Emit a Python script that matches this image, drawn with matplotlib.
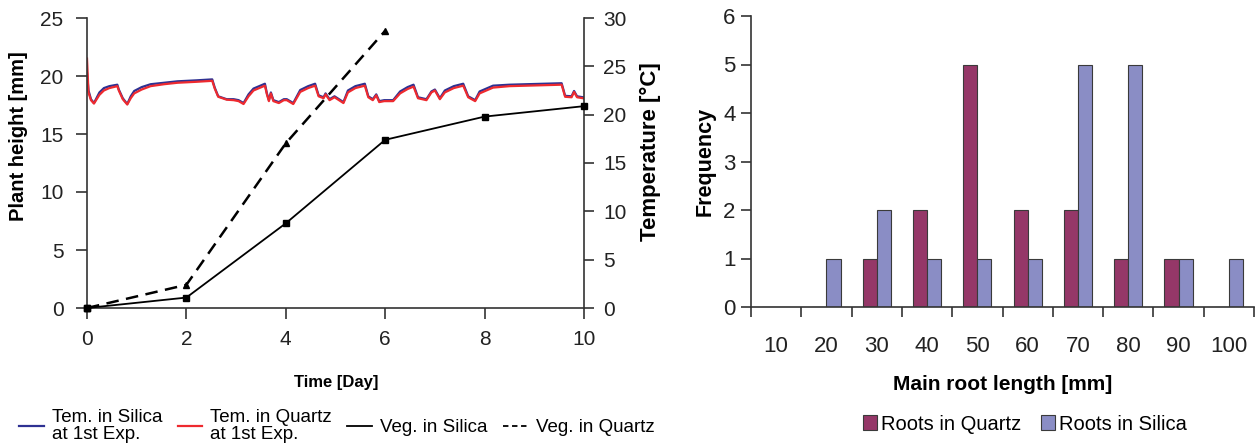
import matplotlib
matplotlib.use("Agg")
import matplotlib.pyplot as plt
from matplotlib.lines import Line2D
from matplotlib.patches import Patch
import matplotlib.font_manager as fm

# ---------------- data ----------------
days = [0, 2, 4, 6, 8, 10]
veg_silica = [0.0, 0.9, 7.3, 14.5, 16.5, 17.4]
days_quartz = [0, 2, 4, 6]
veg_quartz = [0.0, 2.0, 14.2, 23.9]

temp_time = [0.00, 0.03, 0.08, 0.14, 0.25, 0.34, 0.45, 0.61, 0.64, 0.72, 0.81, 0.88, 0.95,
             1.10, 1.28, 1.55, 1.82, 2.20, 2.52, 2.57, 2.64, 2.81, 2.95, 3.05, 3.15, 3.25,
             3.35, 3.58, 3.62, 3.66, 3.70, 3.75, 3.86, 3.96, 4.02, 4.15, 4.29, 4.45, 4.59,
             4.66, 4.76, 4.80, 4.88, 4.98, 5.16, 5.25, 5.40, 5.59, 5.66, 5.75, 5.82, 5.88,
             5.98, 6.16, 6.30, 6.45, 6.57, 6.66, 6.83, 6.93, 7.00, 7.10, 7.20, 7.38, 7.57,
             7.67, 7.81, 7.90, 8.17, 8.50, 8.85, 9.20, 9.55, 9.62, 9.75, 9.80, 9.86, 9.98]
temp_silica = [24.3, 22.5, 21.6, 21.2, 22.3, 22.75, 22.95, 23.1, 22.6, 21.7, 21.1, 21.9, 22.45,
               22.85, 23.15, 23.3, 23.45, 23.55, 23.65, 22.8, 21.9, 21.6, 21.6, 21.5, 21.2, 22.1,
               22.7, 23.2, 22.2, 21.5, 22.3, 21.5, 21.3, 21.6, 21.6, 21.2, 22.55, 22.95, 23.2,
               22.0, 21.8, 22.2, 21.6, 21.9, 21.3, 22.5, 22.95, 23.2, 21.9, 21.6, 22.1, 21.4,
               21.5, 21.5, 22.4, 22.85, 23.1, 21.8, 21.6, 22.4, 22.6, 21.7, 22.5, 22.95, 23.2,
               21.9, 21.5, 22.4, 23.0, 23.1, 23.15, 23.2, 23.25, 21.95, 21.9, 22.45, 21.9, 21.8]
temp_quartz = [25.8, 22.3, 21.5, 21.15, 22.05, 22.5, 22.75, 22.95, 22.5, 21.6, 21.05, 21.7, 22.2,
               22.6, 22.95, 23.15, 23.3, 23.4, 23.5, 22.7, 21.85, 21.55, 21.5, 21.4, 21.1, 21.9,
               22.5, 23.0, 22.1, 21.4, 22.2, 21.4, 21.2, 21.5, 21.5, 21.1, 22.35, 22.75, 23.0,
               21.9, 21.7, 22.1, 21.5, 21.8, 21.2, 22.3, 22.75, 23.0, 21.8, 21.5, 22.0, 21.3,
               21.4, 21.4, 22.2, 22.65, 22.9, 21.7, 21.5, 22.3, 22.5, 21.6, 22.3, 22.75, 23.0,
               21.8, 21.4, 22.2, 22.8, 22.95, 23.0, 23.05, 23.1, 21.85, 21.8, 22.35, 21.8, 21.7]

root_bins = ["10", "20", "30", "40", "50", "60", "70", "80", "90", "100"]
roots_quartz = [0, 0, 1, 2, 5, 2, 2, 1, 1, 0]
roots_silica = [0, 1, 2, 1, 1, 1, 5, 5, 1, 1]

# ---------------- fonts ----------------
names = {f.name for f in fm.fontManager.ttflist}
NARROW = "Liberation Sans Narrow" if "Liberation Sans Narrow" in names else "Liberation Sans"
REG = "Liberation Sans"

W, H = 1260, 447
fig = plt.figure(figsize=(W / 100, H / 100), dpi=100)

def fx(px):
    return px / W

def fy(py):
    return 1 - py / H

SP = "#333333"
TXT = "#222222"

# ---------------- left chart ----------------
ax = fig.add_axes([fx(87), fy(308), fx(584 - 87), (308 - 18) / H])
ax2 = ax.twinx()
ax.set_zorder(ax2.get_zorder() + 1)
ax.patch.set_visible(False)

ax2.plot(temp_time, temp_silica, color="#2e3192", lw=1.6, solid_joinstyle="round")
ax2.plot(temp_time, temp_quartz, color="#ee2a2f", lw=1.6, solid_joinstyle="round")
ax2.set_ylim(0, 30)
ax2.set_yticks(range(0, 31, 5))

ax.plot(days, veg_silica, color="black", lw=1.3, marker="s", ms=4.5, clip_on=False, zorder=4)
ax.plot(days_quartz, veg_quartz, color="black", lw=1.8, ls=(0, (5, 3)), marker="^", ms=5,
        clip_on=False, zorder=3)
ax.plot([0], [0], marker="s", color="black", ms=4.5, clip_on=False, zorder=5)
ax.set_xlim(0, 10)
ax.set_ylim(0, 25)
ax.set_xticks(range(0, 11, 2))
ax.set_yticks(range(0, 26, 5))
ax2.set_xlim(0, 10)

for a in (ax, ax2):
    a.spines["top"].set_visible(False)
ax.spines["right"].set_visible(False)
ax2.spines["left"].set_visible(False)
ax2.spines["bottom"].set_visible(False)
for a in (ax, ax2):
    for s in a.spines.values():
        s.set_color(SP)
        s.set_linewidth(1.2)
ax.tick_params(axis="both", direction="out", length=8, width=1.2, color=SP,
               labelsize=15, labelcolor=TXT)
ax.tick_params(axis="y", pad=9)
ax.tick_params(axis="x", pad=8)
ax2.tick_params(axis="y", direction="out", length=7, width=1.2, color=SP,
                labelsize=15, labelcolor=TXT, pad=7)
for lab in ax.get_xticklabels() + ax.get_yticklabels() + ax2.get_yticklabels():
    lab.set_fontfamily(NARROW)

fig.text(fx(19), fy(136), "Plant height [mm]", rotation=90, ha="center", va="center",
         fontsize=14.5, fontweight="bold", family=REG, color="black")
fig.text(fx(650), fy(152), "Temperature [°C]", rotation=90, ha="center", va="center",
         fontsize=16, fontweight="bold", family=REG, color="black")
fig.text(fx(336), fy(383), "Time [Day]", ha="center", va="center",
         fontsize=12, fontweight="bold", family=NARROW, color="black")

handles_l = [
    Line2D([], [], color="#2e3192", lw=1.6),
    Line2D([], [], color="#ee2a2f", lw=1.6),
    Line2D([], [], color="black", lw=1.3),
    Line2D([], [], color="black", lw=1.3, ls=(0, (3, 2))),
]
labels_l = ["Tem. in Silica\nat 1st Exp.", "Tem. in Quartz\nat 1st Exp.",
            "Veg. in Silica", "Veg. in Quartz"]
leg1 = fig.legend(handles_l, labels_l, loc="center left", bbox_to_anchor=(fx(19), fy(426)),
                  ncol=4, frameon=False, handlelength=1.33, handletextpad=0.43,
                  columnspacing=0.8, borderpad=0, borderaxespad=0,
                  prop={"family": REG, "size": 13.5})
for t in leg1.get_texts():
    t.set_linespacing(1.05)

# ---------------- right chart ----------------
bx = fig.add_axes([fx(751), fy(307), fx(1254 - 751), (307 - 16) / H])
xs = list(range(len(root_bins)))
w = 0.28
bx.bar([x - w / 2 for x in xs], roots_quartz, width=w, color="#953768",
       edgecolor="#3a3a3a", linewidth=0.8, zorder=2)
bx.bar([x + w / 2 for x in xs], roots_silica, width=w, color="#8a8dc5",
       edgecolor="#3a3a3a", linewidth=0.8, zorder=2)
bx.set_xlim(-0.5, len(root_bins) - 0.5)
bx.set_ylim(0, 6)
bx.set_yticks(range(0, 7))
bx.set_xticks([x - 0.5 for x in range(len(root_bins) + 1)])
bx.set_xticklabels([])
bx.set_xticks(xs, minor=True)
bx.set_xticklabels(root_bins, minor=True)
for s in ("top", "right"):
    bx.spines[s].set_visible(False)
for s in ("left", "bottom"):
    bx.spines[s].set_color(SP)
    bx.spines[s].set_linewidth(1.2)
bx.tick_params(axis="both", which="major", direction="out", length=7, width=1.2, color=SP,
               labelsize=16, labelcolor=TXT)
bx.tick_params(axis="y", pad=4)
bx.tick_params(axis="x", which="minor", length=0, labelsize=16, labelcolor=TXT, pad=21)
for lab in bx.get_yticklabels() + bx.get_xticklabels(minor=True):
    lab.set_fontfamily(NARROW)

fig.text(fx(705), fy(161), "Frequency", rotation=90, ha="center", va="center",
         fontsize=15.5, fontweight="bold", family=REG, color="black")
fig.text(fx(1003), fy(385), "Main root length [mm]", ha="center", va="center",
         fontsize=15, fontweight="bold", family=NARROW, color="black")

handles_r = [Patch(facecolor="#953768", edgecolor="#3a3a3a", linewidth=0.8),
             Patch(facecolor="#8a8dc5", edgecolor="#3a3a3a", linewidth=0.8)]
fig.legend(handles_r, ["Roots in Quartz", "Roots in Silica"], loc="center",
           bbox_to_anchor=(fx(1025), fy(424)), ncol=2, frameon=False,
           handlelength=0.7, handleheight=0.7, handletextpad=0.2, columnspacing=1.0,
           borderpad=0, borderaxespad=0, prop={"family": REG, "size": 14.5})

fig.savefig("out.png", dpi=100)
